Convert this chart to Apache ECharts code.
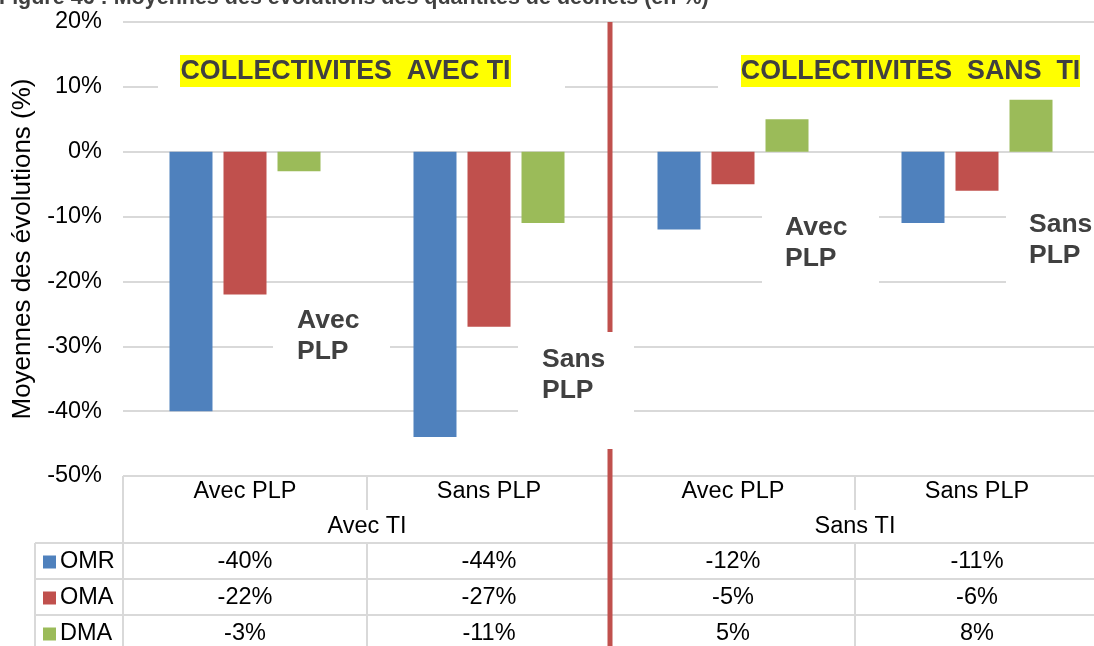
<!DOCTYPE html>
<html>
<head>
<meta charset="utf-8">
<script src="https://cdn.jsdelivr.net/npm/echarts@6/dist/echarts.min.js"></script>
<style>
  html, body { margin: 0; padding: 0; background: #ffffff; }
  #chart { width: 1094px; height: 646px; }
</style>
</head>
<body>
<div id="chart"></div>
<script>
// ---- data ----
const groups = ['Avec TI', 'Sans TI'];
const subCategories = ['Avec PLP', 'Sans PLP', 'Avec PLP', 'Sans PLP'];
const categoryGroup = [0, 0, 1, 1];
const seriesNames = ['OMR', 'OMA', 'DMA'];
const omr = [-40, -44, -12, -11];
const oma = [-22, -27, -5, -6];
const dma = [-3, -11, 5, 8];
const yMin = -50, yMax = 20, yStep = 10;

const titleText = 'Figure 46 : Moyennes des évolutions des quantités de déchets (en %)';
const yAxisName = 'Moyennes des évolutions (%)';
const bannerLeft = 'COLLECTIVITES  AVEC TI';
const bannerRight = 'COLLECTIVITES  SANS  TI';

// ---- style ----
const FONT = '"Liberation Sans", Arial, Helvetica, sans-serif';
const colors = ['#4F81BD', '#C0504D', '#9BBB59'];
const GRID_COLOR = '#D9D9D9';
const LABEL_COLOR = '#404040';

const seriesValues = [omr, oma, dma];
const categoryKeys = subCategories.map((s, i) => groups[categoryGroup[i]] + ' / ' + s);

const chart = echarts.init(document.getElementById('chart'), null, { renderer: 'canvas' });

chart.setOption({
  animation: false,
  backgroundColor: '#ffffff',
  color: colors,
  grid: { left: 123, top: 22, width: 976, height: 454, containLabel: false, outerBoundsMode: 'none' },
  xAxis: {
    type: 'category',
    data: categoryKeys,
    axisLine: { show: false },
    axisTick: { show: false },
    axisLabel: { show: false },
    splitLine: { show: false }
  },
  yAxis: {
    type: 'value',
    min: yMin,
    max: yMax,
    interval: yStep,
    name: yAxisName,
    nameLocation: 'middle',
    nameRotate: 90,
    nameGap: 85,
    nameTextStyle: { fontFamily: FONT, fontSize: 26, color: '#000000' },
    axisLine: { show: false },
    axisTick: { show: false },
    axisLabel: {
      formatter: '{value}%',
      fontFamily: FONT,
      fontSize: 23.5,
      color: '#000000',
      margin: 21
    },
    splitLine: { show: true, lineStyle: { color: GRID_COLOR, width: 2 } }
  },
  series: seriesNames.map((name, k) => ({
    name: name,
    type: 'bar',
    data: seriesValues[k],
    barWidth: 43,
    barGap: '25.6%',
    itemStyle: { color: colors[k] },
    z: 2
  }))
});

// ---- overlay: divider, annotations, data table ----
function buildOverlay() {
  const cx = i => chart.convertToPixel({ xAxisIndex: 0 }, i);
  const band = cx(1) - cx(0);
  const edge = i => cx(i) - band / 2;          // left edge of category i
  const rightEdge = edge(subCategories.length);
  const yBottom = chart.convertToPixel({ yAxisIndex: 0 }, yMin);
  const yTop = chart.convertToPixel({ yAxisIndex: 0 }, yMax);
  const H = 646;

  const els = [];
  const line = (x1, y1, x2, y2, color, w, z) => els.push({
    type: 'line', z: z || 1, silent: true,
    shape: { x1, y1, x2, y2 },
    style: { stroke: color || GRID_COLOR, lineWidth: w || 2 }
  });
  const rect = (x, y, w, h, fill, z) => els.push({
    type: 'rect', z: z || 3, silent: true,
    shape: { x, y, width: w, height: h },
    style: { fill }
  });
  const text = (x, y, str, opt) => els.push({
    type: 'text', z: (opt && opt.z) || 4, silent: true,
    x, y,
    style: Object.assign({
      text: str,
      fontFamily: FONT,
      fontSize: 23.5,
      fill: '#000000',
      align: 'center',
      verticalAlign: 'middle'
    }, opt || {})
  });

  // figure caption at the very top
  text(-1, -2, titleText, { align: 'left', fontSize: 21.5, fontWeight: 'bold', fill: LABEL_COLOR });

  // table layout rows
  const headerDivBottom = 510;
  const rowTop = [543, 579, 615];
  const rowH = 36;
  const keyLeft = 35;

  // table grid lines
  line(edge(0), yBottom, edge(0), H);                     // left border of the table body
  line(keyLeft, rowTop[0], keyLeft, H);                   // left border of legend column
  rowTop.forEach(y => line(keyLeft, y, rightEdge, y));    // row separators
  for (let i = 1; i < subCategories.length; i++) {
    if (categoryGroup[i] !== categoryGroup[i - 1]) {
      line(edge(i), yBottom, edge(i), H);
    } else {
      line(edge(i), yBottom, edge(i), headerDivBottom);
      line(edge(i), rowTop[0], edge(i), H);
    }
  }

  // header texts
  subCategories.forEach((s, i) => text(cx(i), 492, s));
  groups.forEach((g, gi) => {
    const idx = categoryGroup.map((v, i) => v === gi ? i : -1).filter(i => i >= 0);
    const x0 = edge(idx[0]);
    const x1 = edge(idx[idx.length - 1] + 1);
    text((x0 + x1) / 2, 527, g);
  });

  // value rows with legend keys
  seriesNames.forEach((name, k) => {
    const yc = rowTop[k] + rowH / 2 + 1;
    rect(43, yc - 6.5, 13, 13, colors[k], 4);
    text(60, yc, name, { align: 'left' });
    seriesValues[k].forEach((v, i) => text(cx(i), yc, v + '%'));
  });

  // vertical red divider between the two groups of collectivities
  const splitIdx = categoryGroup.findIndex(g => g === 1);
  const xs = edge(splitIdx) - 1;
  line(xs, yTop, xs, 332, colors[1], 5, 2);
  line(xs, 449, xs, H, colors[1], 5, 2);

  // banners
  rect(158, 36, 407, 60, '#ffffff', 3);
  rect(180, 55, 331, 32, '#FFFF00', 3);
  text(180 + 331 / 2, 71.5, bannerLeft, { fontSize: 26.8, fontWeight: 'bold', fill: LABEL_COLOR });
  rect(718, 36, 400, 60, '#ffffff', 3);
  rect(741, 55, 339, 32, '#FFFF00', 3);
  text(741 + 339 / 2, 71.5, bannerRight, { fontSize: 26.8, fontWeight: 'bold', fill: LABEL_COLOR });

  // inline category annotations
  const note = (bx, by, bw, bh, tx, ty, str) => {
    rect(bx, by, bw, bh, '#ffffff', 3);
    text(tx, ty, str, { align: 'left', fontSize: 26.5, fontWeight: 'bold', fill: LABEL_COLOR, lineHeight: 31 });
  };
  note(273, 300, 117, 80, 297, 336, 'Avec\nPLP');
  note(518, 332, 116, 117, 542, 375, 'Sans\nPLP');
  note(762, 195, 117, 105, 785, 243, 'Avec\nPLP');
  note(1006, 195, 100, 105, 1029, 240, 'Sans\nPLP');

  chart.setOption({ graphic: { elements: els } });
}

buildOverlay();
</script>
</body>
</html>
